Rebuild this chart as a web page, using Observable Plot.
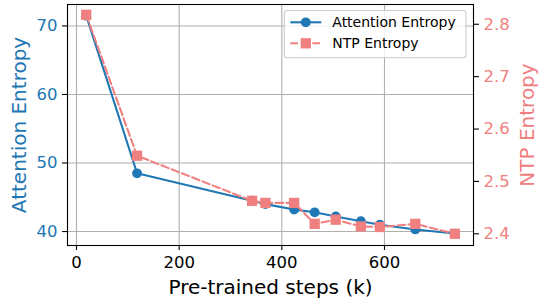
<!DOCTYPE html>
<html><head><meta charset="utf-8">
<script src="https://cdn.jsdelivr.net/npm/d3@7"></script>
<script src="https://cdn.jsdelivr.net/npm/@observablehq/plot@0.6"></script>
<style>
html,body{margin:0;padding:0;background:#fff;}
#chart{width:540px;height:301px;}
</style></head><body><div id="chart"></div>
<script>
const steps = [19, 118, 342, 368, 424, 464, 505, 554, 591, 660, 737];
const attentionEntropy = [71.5, 48.5, 44.5, 44.0, 43.2, 42.8, 42.2, 41.5, 41.0, 40.3, 39.7];
const ntpEntropy = [2.818, 2.549, 2.463, 2.459, 2.459, 2.419, 2.427, 2.414, 2.413, 2.419, 2.400];
const xTicks = [0, 200, 400, 600];
const leftTicks = [40, 50, 60, 70];
const rightTicks = [2.4, 2.5, 2.6, 2.7, 2.8];
const seriesNames = ["Attention Entropy", "NTP Entropy"];
const xLabel = "Pre-trained steps (k)";

const xDomain = [-17.5, 773.4];
const leftDomain = [37.96, 73.13];
const rightDomain = [2.3777, 2.8377];
const toLeft = v => leftDomain[0] + (v - rightDomain[0]) / (rightDomain[1] - rightDomain[0]) * (leftDomain[1] - leftDomain[0]);
const toRight = v => rightDomain[0] + (v - leftDomain[0]) / (leftDomain[1] - leftDomain[0]) * (rightDomain[1] - rightDomain[0]);

const W = 540, H = 301, mT = 4, mB = 56, mL = 67, mR = 67;
const blue = "#1f77b4", coral = "#f08080";
const circleR = 4.9, squareR = 5.8;
const data = steps.map((s, i) => ({step: s, att: attentionEntropy[i], ntpL: toLeft(ntpEntropy[i])}));

const plot = Plot.plot({
  width: W, height: H, marginTop: mT, marginBottom: mB, marginLeft: mL, marginRight: mR,
  style: {fontFamily: "DejaVu Sans", fontSize: "16.5px", background: "white", overflow: "visible"},
  x: {domain: xDomain},
  y: {domain: leftDomain},
  marks: [
    Plot.gridX(xTicks, {stroke: "#b0b0b0", strokeOpacity: 1, strokeWidth: 1.1}),
    Plot.gridY(leftTicks, {stroke: "#b0b0b0", strokeOpacity: 1, strokeWidth: 1.1}),
    Plot.line(data, {x: "step", y: "att", stroke: blue, strokeWidth: 2.1}),
    Plot.dot(data, {x: "step", y: "att", fill: blue, r: circleR, symbol: "circle"}),
    Plot.line(data, {x: "step", y: "ntpL", stroke: coral, strokeWidth: 2.1, strokeDasharray: "7.7,3.3"}),
    Plot.dot(data, {x: "step", y: "ntpL", fill: coral, r: squareR, symbol: "square"}),
    Plot.frame({stroke: "black", strokeWidth: 1.1}),
    Plot.axisX(xTicks, {tickSize: 5, tickPadding: 6, label: null, stroke: "black", fill: "black", strokeWidth: 1.1, fontSize: 16.5}),
    Plot.axisY(leftTicks, {anchor: "left", tickSize: 5, tickPadding: 5, label: null, stroke: "black", fill: blue, strokeWidth: 1.1, fontSize: 16.5}),
    Plot.axisY(rightTicks.map(toLeft), {anchor: "right", tickSize: 5, tickPadding: 5, label: null, stroke: "black", fill: coral, strokeWidth: 1.1, fontSize: 16.5, tickFormat: d => toRight(d).toFixed(1)}),
    Plot.text([xLabel], {frameAnchor: "bottom", dy: 48, fontSize: 20, lineAnchor: "bottom", fill: "black"}),
    Plot.text([seriesNames[0]], {frameAnchor: "left", rotate: -90, dx: -42, fontSize: 20, lineAnchor: "bottom", textAnchor: "middle", fill: blue}),
    Plot.text([seriesNames[1]], {frameAnchor: "right", rotate: -90, dx: 60, fontSize: 20, lineAnchor: "bottom", textAnchor: "middle", fill: coral})
  ]
});
document.getElementById("chart").appendChild(plot);

// legend inside the plot frame, top-right
const svg = d3.select(plot);
const lgW = 181.7, lgH = 47.3;
const lx = W - mR - 7 - lgW, ly = mT + 6.5;
const lg = svg.append("g").attr("font-family", "DejaVu Sans").attr("font-size", 14).attr("text-anchor", "start");
lg.append("rect").attr("x", lx).attr("y", ly).attr("width", lgW).attr("height", lgH).attr("rx", 3)
  .attr("fill", "white").attr("fill-opacity", 0.8).attr("stroke", "#cccccc").attr("stroke-width", 1.1);
const entries = [
  {name: seriesNames[0], color: blue, dash: "none", symbol: d3.symbolCircle, r: circleR},
  {name: seriesNames[1], color: coral, dash: "7.7,3.3", symbol: d3.symbolSquare, r: squareR}
];
entries.forEach((e, i) => {
  const cy = ly + 11.8 + i * 21;
  lg.append("path").attr("d", `M${lx + 6},${cy}H${lx + 37}`).attr("fill", "none")
    .attr("stroke", e.color).attr("stroke-width", 2.1).attr("stroke-dasharray", e.dash);
  lg.append("path").attr("d", d3.symbol(e.symbol, Math.PI * e.r * e.r)())
    .attr("transform", `translate(${lx + 21.5},${cy})`).attr("fill", e.color);
  lg.append("text").attr("x", lx + 48).attr("y", cy).attr("dy", "0.36em").attr("fill", "black").text(e.name);
});
</script></body></html>
